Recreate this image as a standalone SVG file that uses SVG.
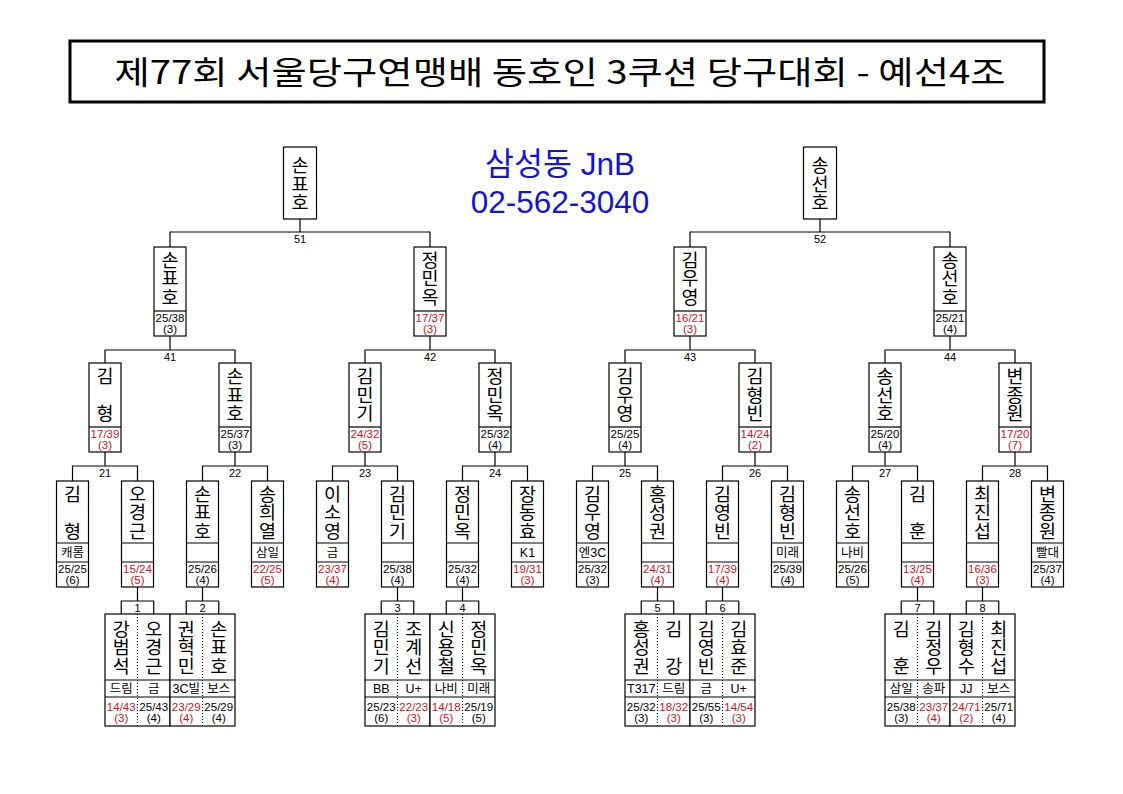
<svg xmlns="http://www.w3.org/2000/svg" width="1123" height="794" viewBox="0 0 1123 794">
<style>
.bx{fill:#fff;stroke:#000;stroke-width:1.2}
.ln{fill:none;stroke:#000;stroke-width:1.2}
.dt{fill:none;stroke:#000;stroke-width:1;stroke-dasharray:1 2}
.nm{font-family:"Noto Sans CJK KR","Noto Sans CJK SC",sans-serif;font-size:18.5px;text-anchor:middle;fill:#000;writing-mode:vertical-rl;text-orientation:upright}
.sc{font-family:"Liberation Sans",Arial,sans-serif;font-size:11.5px;text-anchor:middle;fill:#000}
.r{fill:#c8142a}
.af{font-family:"Liberation Sans","Noto Sans CJK KR",sans-serif;font-size:12.5px;text-anchor:middle;fill:#000}
.lb{font-family:"Liberation Sans",Arial,sans-serif;font-size:11px;text-anchor:middle;fill:#000}
.bl{font-family:"Liberation Sans","Noto Sans CJK KR",sans-serif;font-size:31.5px;text-anchor:middle;fill:#1414d0}
</style>
<rect width="1123" height="794" fill="#fff"/>
<g id="title">
<rect x="70" y="41" width="974" height="61" fill="#fff" stroke="#000" stroke-width="3"/>
<text x="560" y="84" font-family="'Noto Sans CJK KR','Noto Sans CJK SC',sans-serif" font-size="32" text-anchor="middle" textLength="891" lengthAdjust="spacingAndGlyphs">제77회 서울당구연맹배 동호인 3쿠션 당구대회 - 예선4조</text>
</g>
<g id="venue">
<text class="bl" x="560" y="175">삼성동 JnB</text>
<text class="bl" x="560" y="213">02-562-3040</text>
</g>
<g id="connectors">
<path class="ln" d="M300,219V232M170,247V232H430V247M820,219V232M690,247V232H950V247"/>
<path class="ln" d="M170,336V350M105,363V350H235V363M430,336V350M365,363V350H495V363M690,336V350M625,363V350H755V363M950,336V350M885,363V350H1015V363"/>
<path class="ln" d="M105,452V466M72.5,481V466H137.5V481M235,452V466M202.5,481V466H267.5V481M365,452V466M332.5,481V466H397.5V481M495,452V466M462.5,481V466H527.5V481M625,452V466M592.5,481V466H657.5V481M755,452V466M722.5,481V466H787.5V481M885,452V466M852.5,481V466H917.5V481M1015,452V466M982.5,481V466H1047.5V481"/>
<path class="ln" d="M137.5,587V601M121.25,614V601H153.75V614M202.5,587V601M186.25,614V601H218.75V614M397.5,587V601M381.25,614V601H413.75V614M462.5,587V601M446.25,614V601H478.75V614M657.5,587V601M641.25,614V601H673.75V614M722.5,587V601M706.25,614V601H738.75V614M917.5,587V601M901.25,614V601H933.75V614M982.5,587V601M966.25,614V601H998.75V614"/>
<text class="lb" x="300" y="243">51</text><text class="lb" x="820" y="243">52</text>
<text class="lb" x="170" y="360.5">41</text><text class="lb" x="430" y="360.5">42</text><text class="lb" x="690" y="360.5">43</text><text class="lb" x="950" y="360.5">44</text>
<text class="lb" x="105" y="476.5">21</text><text class="lb" x="235" y="476.5">22</text><text class="lb" x="365" y="476.5">23</text><text class="lb" x="495" y="476.5">24</text><text class="lb" x="625" y="476.5">25</text><text class="lb" x="755" y="476.5">26</text><text class="lb" x="885" y="476.5">27</text><text class="lb" x="1015" y="476.5">28</text>
<text class="lb" x="137.5" y="611.5">1</text><text class="lb" x="202.5" y="611.5">2</text><text class="lb" x="397.5" y="611.5">3</text><text class="lb" x="462.5" y="611.5">4</text><text class="lb" x="657.5" y="611.5">5</text><text class="lb" x="722.5" y="611.5">6</text><text class="lb" x="917.5" y="611.5">7</text><text class="lb" x="982.5" y="611.5">8</text>
</g>
<!-- final -->
<g id="f51"><rect class="bx" x="283.5" y="147" width="33" height="72"/><text class="nm" x="300" y="183.5">손표호</text></g>
<g id="f52"><rect class="bx" x="803.5" y="147" width="33" height="72"/><text class="nm" x="820" y="183.5">송선호</text></g>
<!-- level 2 -->
<g id="s41"><rect class="bx" x="154" y="247" width="32" height="89"/><path class="ln" d="M154,311H186"/><text class="nm" x="170" y="278">손표호</text><text class="sc" x="170" y="322">25/38</text><text class="sc" x="170" y="332.5">(3)</text></g>
<g id="s42"><rect class="bx" x="414" y="247" width="32" height="89"/><path class="ln" d="M414,311H446"/><text class="nm" x="430" y="278">정민옥</text><text class="sc r" x="430" y="322">17/37</text><text class="sc r" x="430" y="332.5">(3)</text></g>
<g id="s43"><rect class="bx" x="674" y="247" width="32" height="89"/><path class="ln" d="M674,311H706"/><text class="nm" x="690" y="278">김우영</text><text class="sc r" x="690" y="322">16/21</text><text class="sc r" x="690" y="332.5">(3)</text></g>
<g id="s44"><rect class="bx" x="934" y="247" width="32" height="89"/><path class="ln" d="M934,311H966"/><text class="nm" x="950" y="278">송선호</text><text class="sc" x="950" y="322">25/21</text><text class="sc" x="950" y="332.5">(4)</text></g>
<!-- level 3 -->
<g id="q21"><rect class="bx" x="89" y="363" width="32" height="89"/><path class="ln" d="M89,427H121"/><text class="nm" x="105" y="376">김</text><text class="nm" x="105" y="413">형</text><text class="sc r" x="105" y="437.5">17/39</text><text class="sc r" x="105" y="448.5">(3)</text></g>
<g id="q22"><rect class="bx" x="219" y="363" width="32" height="89"/><path class="ln" d="M219,427H251"/><text class="nm" x="235" y="394.5">손표호</text><text class="sc" x="235" y="437.5">25/37</text><text class="sc" x="235" y="448.5">(3)</text></g>
<g id="q23"><rect class="bx" x="349" y="363" width="32" height="89"/><path class="ln" d="M349,427H381"/><text class="nm" x="365" y="394.5">김민기</text><text class="sc r" x="365" y="437.5">24/32</text><text class="sc r" x="365" y="448.5">(5)</text></g>
<g id="q24"><rect class="bx" x="479" y="363" width="32" height="89"/><path class="ln" d="M479,427H511"/><text class="nm" x="495" y="394.5">정민옥</text><text class="sc" x="495" y="437.5">25/32</text><text class="sc" x="495" y="448.5">(4)</text></g>
<g id="q25"><rect class="bx" x="609" y="363" width="32" height="89"/><path class="ln" d="M609,427H641"/><text class="nm" x="625" y="394.5">김우영</text><text class="sc" x="625" y="437.5">25/25</text><text class="sc" x="625" y="448.5">(4)</text></g>
<g id="q26"><rect class="bx" x="739" y="363" width="32" height="89"/><path class="ln" d="M739,427H771"/><text class="nm" x="755" y="394.5">김형빈</text><text class="sc r" x="755" y="437.5">14/24</text><text class="sc r" x="755" y="448.5">(2)</text></g>
<g id="q27"><rect class="bx" x="869" y="363" width="32" height="89"/><path class="ln" d="M869,427H901"/><text class="nm" x="885" y="394.5">송선호</text><text class="sc" x="885" y="437.5">25/20</text><text class="sc" x="885" y="448.5">(4)</text></g>
<g id="q28"><rect class="bx" x="999" y="363" width="32" height="89"/><path class="ln" d="M999,427H1031"/><text class="nm" x="1015" y="394.5">변종원</text><text class="sc r" x="1015" y="437.5">17/20</text><text class="sc r" x="1015" y="448.5">(7)</text></g>
<!-- level 4 -->
<g id="p1"><rect class="bx" x="56.5" y="481" width="32" height="106"/><path class="ln" d="M56.5,543H88.5M56.5,562H88.5"/><text class="nm" x="72.5" y="493.5">김</text><text class="nm" x="72.5" y="530.5">형</text><text class="af" x="72.5" y="557">캐롬</text><text class="sc" x="72.5" y="573">25/25</text><text class="sc" x="72.5" y="584">(6)</text></g>
<g id="p2"><rect class="bx" x="121.5" y="481" width="32" height="106"/><path class="ln" d="M121.5,543H153.5M121.5,562H153.5"/><text class="nm" x="137.5" y="512">오경근</text><text class="sc r" x="137.5" y="573">15/24</text><text class="sc r" x="137.5" y="584">(5)</text></g>
<g id="p3"><rect class="bx" x="186.5" y="481" width="32" height="106"/><path class="ln" d="M186.5,543H218.5M186.5,562H218.5"/><text class="nm" x="202.5" y="512">손표호</text><text class="sc" x="202.5" y="573">25/26</text><text class="sc" x="202.5" y="584">(4)</text></g>
<g id="p4"><rect class="bx" x="251.5" y="481" width="32" height="106"/><path class="ln" d="M251.5,543H283.5M251.5,562H283.5"/><text class="nm" x="267.5" y="512">송희열</text><text class="af" x="267.5" y="557">삼일</text><text class="sc r" x="267.5" y="573">22/25</text><text class="sc r" x="267.5" y="584">(5)</text></g>
<g id="p5"><rect class="bx" x="316.5" y="481" width="32" height="106"/><path class="ln" d="M316.5,543H348.5M316.5,562H348.5"/><text class="nm" x="332.5" y="512">이소영</text><text class="af" x="332.5" y="557">금</text><text class="sc r" x="332.5" y="573">23/37</text><text class="sc r" x="332.5" y="584">(4)</text></g>
<g id="p6"><rect class="bx" x="381.5" y="481" width="32" height="106"/><path class="ln" d="M381.5,543H413.5M381.5,562H413.5"/><text class="nm" x="397.5" y="512">김민기</text><text class="sc" x="397.5" y="573">25/38</text><text class="sc" x="397.5" y="584">(4)</text></g>
<g id="p7"><rect class="bx" x="446.5" y="481" width="32" height="106"/><path class="ln" d="M446.5,543H478.5M446.5,562H478.5"/><text class="nm" x="462.5" y="512">정민옥</text><text class="sc" x="462.5" y="573">25/32</text><text class="sc" x="462.5" y="584">(4)</text></g>
<g id="p8"><rect class="bx" x="511.5" y="481" width="32" height="106"/><path class="ln" d="M511.5,543H543.5M511.5,562H543.5"/><text class="nm" x="527.5" y="512">장동효</text><text class="af" x="527.5" y="557">K1</text><text class="sc r" x="527.5" y="573">19/31</text><text class="sc r" x="527.5" y="584">(3)</text></g>
<g id="p9"><rect class="bx" x="576.5" y="481" width="32" height="106"/><path class="ln" d="M576.5,543H608.5M576.5,562H608.5"/><text class="nm" x="592.5" y="512">김우영</text><text class="af" x="592.5" y="557">엔3C</text><text class="sc" x="592.5" y="573">25/32</text><text class="sc" x="592.5" y="584">(3)</text></g>
<g id="p10"><rect class="bx" x="641.5" y="481" width="32" height="106"/><path class="ln" d="M641.5,543H673.5M641.5,562H673.5"/><text class="nm" x="657.5" y="512">홍성권</text><text class="sc r" x="657.5" y="573">24/31</text><text class="sc r" x="657.5" y="584">(4)</text></g>
<g id="p11"><rect class="bx" x="706.5" y="481" width="32" height="106"/><path class="ln" d="M706.5,543H738.5M706.5,562H738.5"/><text class="nm" x="722.5" y="512">김영빈</text><text class="sc r" x="722.5" y="573">17/39</text><text class="sc r" x="722.5" y="584">(4)</text></g>
<g id="p12"><rect class="bx" x="771.5" y="481" width="32" height="106"/><path class="ln" d="M771.5,543H803.5M771.5,562H803.5"/><text class="nm" x="787.5" y="512">김형빈</text><text class="af" x="787.5" y="557">미래</text><text class="sc" x="787.5" y="573">25/39</text><text class="sc" x="787.5" y="584">(4)</text></g>
<g id="p13"><rect class="bx" x="836.5" y="481" width="32" height="106"/><path class="ln" d="M836.5,543H868.5M836.5,562H868.5"/><text class="nm" x="852.5" y="512">송선호</text><text class="af" x="852.5" y="557">나비</text><text class="sc" x="852.5" y="573">25/26</text><text class="sc" x="852.5" y="584">(5)</text></g>
<g id="p14"><rect class="bx" x="901.5" y="481" width="32" height="106"/><path class="ln" d="M901.5,543H933.5M901.5,562H933.5"/><text class="nm" x="917.5" y="493.5">김</text><text class="nm" x="917.5" y="530.5">훈</text><text class="sc r" x="917.5" y="573">13/25</text><text class="sc r" x="917.5" y="584">(4)</text></g>
<g id="p15"><rect class="bx" x="966.5" y="481" width="32" height="106"/><path class="ln" d="M966.5,543H998.5M966.5,562H998.5"/><text class="nm" x="982.5" y="512">최진섭</text><text class="sc r" x="982.5" y="573">16/36</text><text class="sc r" x="982.5" y="584">(3)</text></g>
<g id="p16"><rect class="bx" x="1031.5" y="481" width="32" height="106"/><path class="ln" d="M1031.5,543H1063.5M1031.5,562H1063.5"/><text class="nm" x="1047.5" y="512">변종원</text><text class="af" x="1047.5" y="557">빨대</text><text class="sc" x="1047.5" y="573">25/37</text><text class="sc" x="1047.5" y="584">(4)</text></g>
<!-- first round matches -->
<g id="m1"><rect class="bx" x="105" y="614" width="65" height="112"/><path class="ln" d="M105,680H170M105,697H170"/><path class="dt" d="M137.5,614V726"/>
<text class="nm" x="121.25" y="647">강범석</text><text class="af" x="121.25" y="693">드림</text><text class="sc r" x="121.25" y="711">14/43</text><text class="sc r" x="121.25" y="722">(3)</text>
<text class="nm" x="153.75" y="647">오경근</text><text class="af" x="153.75" y="693">금</text><text class="sc" x="153.75" y="711">25/43</text><text class="sc" x="153.75" y="722">(4)</text></g>
<g id="m2"><rect class="bx" x="170" y="614" width="65" height="112"/><path class="ln" d="M170,680H235M170,697H235"/><path class="dt" d="M202.5,614V726"/>
<text class="nm" x="186.25" y="647">권혁민</text><text class="af" x="186.25" y="693">3C빌</text><text class="sc r" x="186.25" y="711">23/29</text><text class="sc r" x="186.25" y="722">(4)</text>
<text class="nm" x="218.75" y="647">손표호</text><text class="af" x="218.75" y="693">보스</text><text class="sc" x="218.75" y="711">25/29</text><text class="sc" x="218.75" y="722">(4)</text></g>
<g id="m3"><rect class="bx" x="365" y="614" width="65" height="112"/><path class="ln" d="M365,680H430M365,697H430"/><path class="dt" d="M397.5,614V726"/>
<text class="nm" x="381.25" y="647">김민기</text><text class="af" x="381.25" y="693">BB</text><text class="sc" x="381.25" y="711">25/23</text><text class="sc" x="381.25" y="722">(6)</text>
<text class="nm" x="413.75" y="647">조계선</text><text class="af" x="413.75" y="693">U+</text><text class="sc r" x="413.75" y="711">22/23</text><text class="sc r" x="413.75" y="722">(3)</text></g>
<g id="m4"><rect class="bx" x="430" y="614" width="65" height="112"/><path class="ln" d="M430,680H495M430,697H495"/><path class="dt" d="M462.5,614V726"/>
<text class="nm" x="446.25" y="647">신용철</text><text class="af" x="446.25" y="693">나비</text><text class="sc r" x="446.25" y="711">14/18</text><text class="sc r" x="446.25" y="722">(5)</text>
<text class="nm" x="478.75" y="647">정민옥</text><text class="af" x="478.75" y="693">미래</text><text class="sc" x="478.75" y="711">25/19</text><text class="sc" x="478.75" y="722">(5)</text></g>
<g id="m5"><rect class="bx" x="625" y="614" width="65" height="112"/><path class="ln" d="M625,680H690M625,697H690"/><path class="dt" d="M657.5,614V726"/>
<text class="nm" x="641.25" y="647">홍성권</text><text class="af" x="641.25" y="693">T317</text><text class="sc" x="641.25" y="711">25/32</text><text class="sc" x="641.25" y="722">(3)</text>
<text class="nm" x="673.75" y="628.5">김</text><text class="nm" x="673.75" y="665.5">강</text><text class="af" x="673.75" y="693">드림</text><text class="sc r" x="673.75" y="711">18/32</text><text class="sc r" x="673.75" y="722">(3)</text></g>
<g id="m6"><rect class="bx" x="690" y="614" width="65" height="112"/><path class="ln" d="M690,680H755M690,697H755"/><path class="dt" d="M722.5,614V726"/>
<text class="nm" x="706.25" y="647">김영빈</text><text class="af" x="706.25" y="693">금</text><text class="sc" x="706.25" y="711">25/55</text><text class="sc" x="706.25" y="722">(3)</text>
<text class="nm" x="738.75" y="647">김효준</text><text class="af" x="738.75" y="693">U+</text><text class="sc r" x="738.75" y="711">14/54</text><text class="sc r" x="738.75" y="722">(3)</text></g>
<g id="m7"><rect class="bx" x="885" y="614" width="65" height="112"/><path class="ln" d="M885,680H950M885,697H950"/><path class="dt" d="M917.5,614V726"/>
<text class="nm" x="901.25" y="628.5">김</text><text class="nm" x="901.25" y="665.5">훈</text><text class="af" x="901.25" y="693">삼일</text><text class="sc" x="901.25" y="711">25/38</text><text class="sc" x="901.25" y="722">(3)</text>
<text class="nm" x="933.75" y="647">김정우</text><text class="af" x="933.75" y="693">송파</text><text class="sc r" x="933.75" y="711">23/37</text><text class="sc r" x="933.75" y="722">(4)</text></g>
<g id="m8"><rect class="bx" x="950" y="614" width="65" height="112"/><path class="ln" d="M950,680H1015M950,697H1015"/><path class="dt" d="M982.5,614V726"/>
<text class="nm" x="966.25" y="647">김형수</text><text class="af" x="966.25" y="693">JJ</text><text class="sc r" x="966.25" y="711">24/71</text><text class="sc r" x="966.25" y="722">(2)</text>
<text class="nm" x="998.75" y="647">최진섭</text><text class="af" x="998.75" y="693">보스</text><text class="sc" x="998.75" y="711">25/71</text><text class="sc" x="998.75" y="722">(4)</text></g>
</svg>
